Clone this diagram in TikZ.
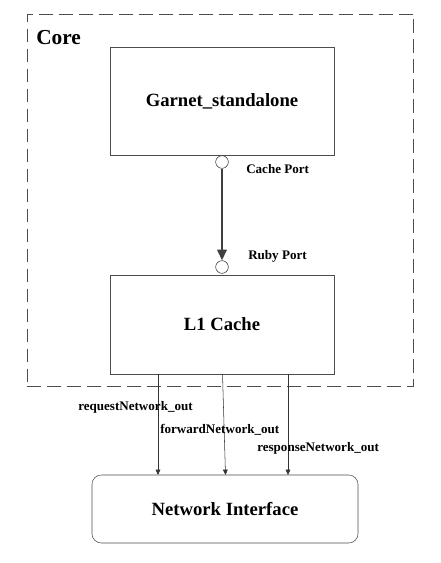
\documentclass[tikz,border=0pt]{standalone}
\usepackage{fontspec}
\setmainfont{Liberation Serif}
\usetikzlibrary{positioning, arrows.meta}

\tikzset{
    block/.style={draw=black!70, minimum width=168pt, minimum height=79pt, font=\bfseries\fontsize{14}{16}\selectfont},
    port/.style={circle, draw=black!80, fill=white, inner sep=0pt, minimum size=9.5pt},
    lbl/.style={font=\bfseries\fontsize{9.8}{11}\selectfont, anchor=west, inner sep=0pt},
    link/.style={draw=black!80, -{Triangle[length=4pt,width=3.5pt]}}
}

\begin{document}
\begin{tikzpicture}[x=0.75pt, y=-0.75pt]
        \useasboundingbox (0,0) rectangle (440,563);

        \node[draw=black!70, dash pattern=on 10pt off 5pt, semithick, minimum width=290pt, minimum height=279pt] (core) at (220.5,200) {};
        \node[font=\bfseries\fontsize{16}{18}\selectfont, anchor=west, inner sep=0pt] (corelbl) at (36,38) {Core};

        \node[block, minimum height=81pt] (garnet) at (222,101) {Garnet\_standalone};
        \node[block, minimum height=74pt] (l1) at (222,324.5) {L1 Cache};
        \node[block, rounded corners=7pt, minimum width=199.5pt, minimum height=51pt] (ni) at (225,509) {Network Interface};

        \node[port] (cport) at (222,162) {};
        \node[port] (rport) at (222,267) {};
        \node[lbl] (cportlbl) at (246,169) {Cache Port};
        \node[lbl] (rportlbl) at (248,256) {Ruby Port};

        \draw[draw=black!75, line width=1.6pt, -{Triangle[length=8pt,width=7pt]}] (cport) -- (rport);

        \coordinate (reqA) at (158,374);   \coordinate (reqB) at (158,475);
        \coordinate (fwdA) at (222.5,374); \coordinate (fwdB) at (225.5,475);
        \coordinate (resA) at (288,374);   \coordinate (resB) at (288,475);
        \draw[link] (reqA) -- (reqB);
        \draw[link] (fwdA) -- (fwdB);
        \draw[link] (resA) -- (resB);

        \node[lbl] (reqlbl) at (78,407) {requestNetwork\_out};
        \node[lbl] (fwdlbl) at (160,430) {forwardNetwork\_out};
        \node[lbl] (reslbl) at (257,448) {responseNetwork\_out};

    \end{tikzpicture}
\end{document}
